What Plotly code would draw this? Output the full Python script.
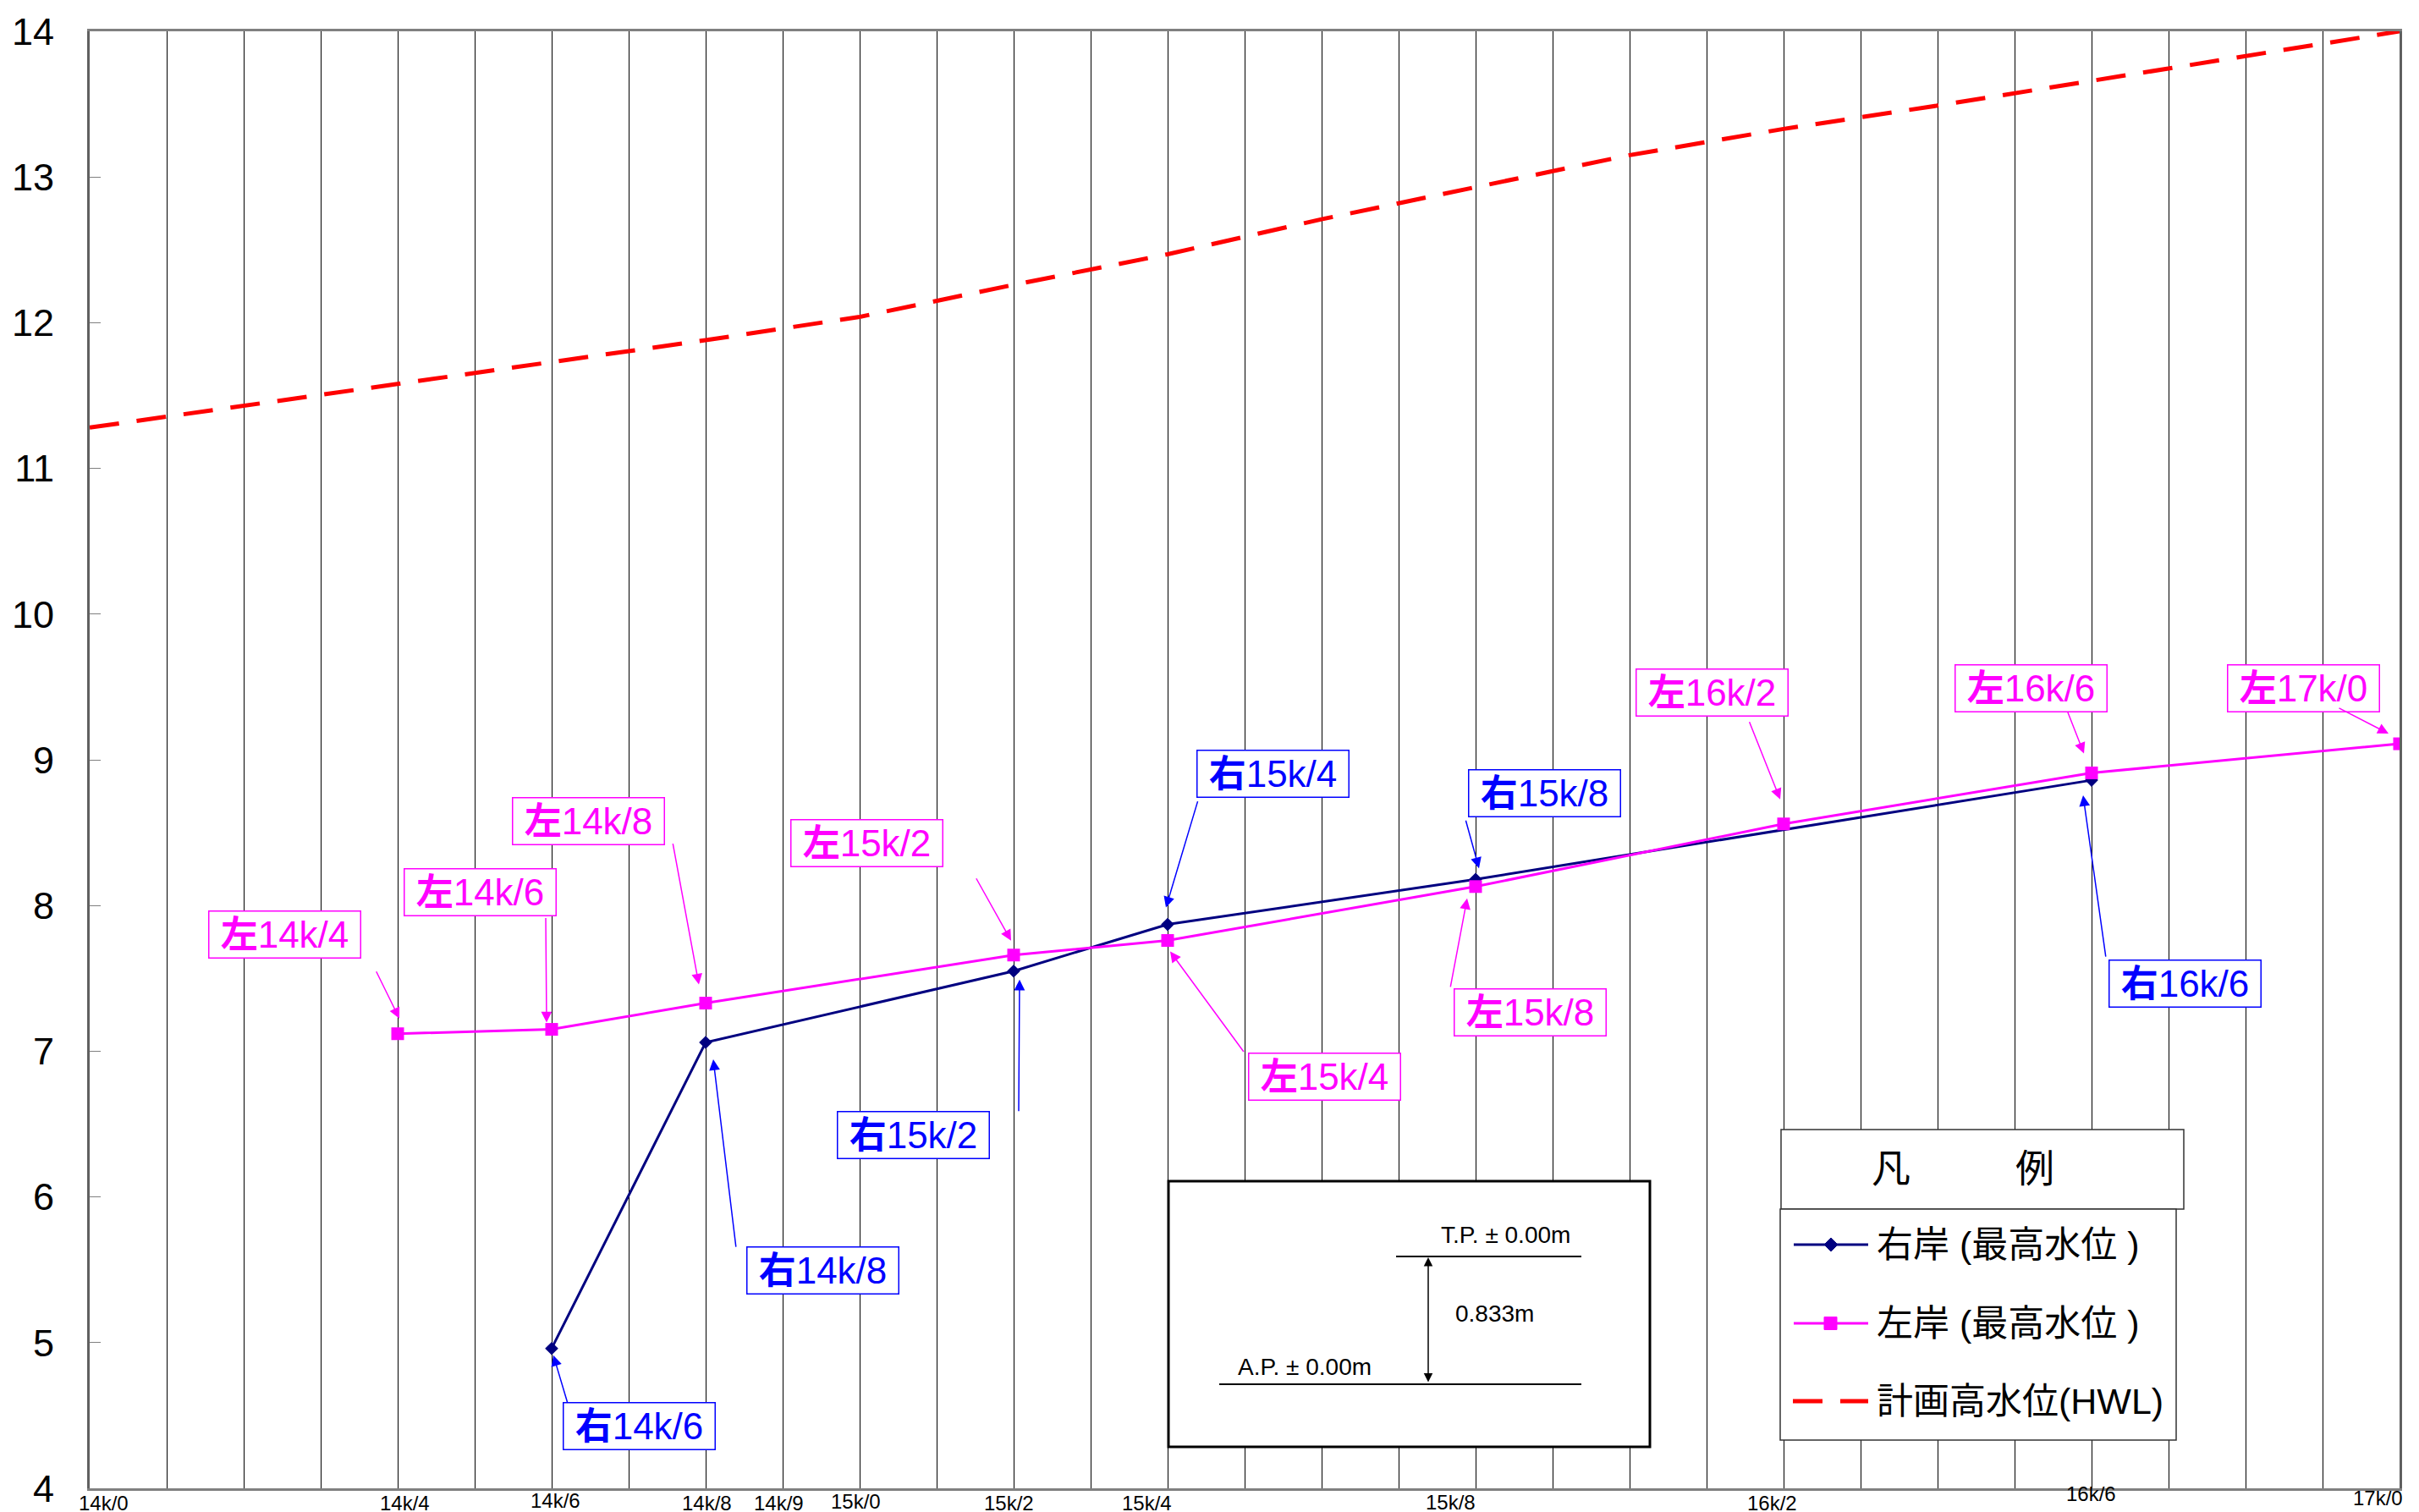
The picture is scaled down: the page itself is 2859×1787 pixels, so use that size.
import plotly.graph_objects as go

# ---------------- data ----------------
label_text = ["14k/0", "14k/4", "14k/6", "14k/8", "14k/9", "15k/0", "15k/2",
              "15k/4", "15k/8", "16k/2", "16k/6", "17k/0"]
label_km = [14.0, 14.4, 14.6, 14.8, 14.9, 15.0, 15.2, 15.4, 15.8, 16.2, 16.6, 17.0]

right_km = [14.6, 14.8, 15.2, 15.4, 15.8, 16.6]
right_wl = [4.96, 7.06, 7.55, 7.87, 8.18, 8.86]

left_km = [14.4, 14.6, 14.8, 15.2, 15.4, 15.8, 16.2, 16.6, 17.0]
left_wl = [7.12, 7.15, 7.33, 7.66, 7.76, 8.13, 8.56, 8.91, 9.11]

hwl_km = [14.0, 14.2, 14.4, 14.6, 14.8, 15.0, 15.2, 15.4, 15.6, 15.8, 16.0,
          16.2, 16.4, 16.6, 16.8, 17.0]
hwl_wl = [11.28, 11.43, 11.58, 11.73, 11.88, 12.04, 12.26, 12.47, 12.71, 12.93,
          13.15, 13.33, 13.49, 13.66, 13.83, 14.00]

name_right = "右岸 (最高水位 )"
name_left = "左岸 (最高水位 )"
name_hwl = "計画高水位(HWL)"

# ---------------- styling ----------------
W, H = 2859, 1787
ML, MR, MT, MB = 98, 31, 29, 36
PW, PH = W - ML - MR, H - MT - MB

def px(x):
    return (x - ML) / PW

def py(y):
    return (H - MB - y) / PH

LAT = "Liberation Sans, Arial, Noto Sans CJK JP"
NAVY = "#000080"
MAG = "#ff00ff"
BLUE = "#0000ff"
RED = "#ff0000"

# label offsets (pixels) for axis station labels
label_shift = {"14k/0": (16, -17), "14k/4": (8, -17), "14k/6": (4, -14),
               "14k/8": (1, -17), "14k/9": (-5, -17), "15k/0": (-5, -15),
               "15k/2": (-6, -17), "15k/4": (-25, -17), "15k/8": (-30, -16),
               "16k/2": (-14, -17), "16k/6": (-1, -6), "17k/0": (-26, -11)}

# callout geometry: box centre, arrow tail, arrow tip offsets (px, y down)
left_callouts = {
    14.4: ((-134, -117), (-26, -75), (2, -18)),
    14.6: ((-85, -162), (-7, -133), (-6, -8)),
    14.8: ((-139, -215), (-39, -190), (-8, -22)),
    15.2: ((-174, -132), (-45, -92), (-3, -17)),
    15.4: ((185, 161), (91, 133), (3, 13)),
    15.8: ((64, 149), (-30, 120), (-10, 14)),
    16.2: ((-85, -155), (-41, -122), (-4, -29)),
    16.6: ((-72, -100), (-29, -74), (-9, -23)),
    17.0: ((-114, -66), (-73, -43), (-13, -12)),
}
right_callouts = {
    14.6: ((103, 92), (19, 65), (2, 8)),
    14.8: ((138, 269), (36, 243), (9, 20)),
    15.2: ((-119, 194), (6, 167), (7, 10)),
    15.4: ((124, -178), (36, -147), (-2, -20)),
    15.8: ((81, -102), (-12, -71), (4, -13)),
    16.6: ((110, 240), (17, 210), (-10, 18)),
}

def station_label(km):
    k = int(round(km * 10))
    return f"{k // 10}k/{k % 10}"

fig = go.Figure()

fig.add_trace(go.Scatter(
    x=right_km, y=right_wl, mode="lines+markers", name=name_right,
    line=dict(color=NAVY, width=3),
    marker=dict(symbol="diamond", size=12, color=NAVY)))
fig.add_trace(go.Scatter(
    x=left_km, y=left_wl, mode="lines+markers", name=name_left,
    line=dict(color=MAG, width=3),
    marker=dict(symbol="square", size=15, color=MAG)))
fig.add_trace(go.Scatter(
    x=hwl_km, y=hwl_wl, mode="lines", name=name_hwl,
    line=dict(color=RED, width=5, dash="35px,21px")))

annotations = []
# axis station labels
for t, km in zip(label_text, label_km):
    dx, dy = label_shift[t]
    annotations.append(dict(
        x=km, xref="x", y=0, yref="paper", text=t, showarrow=False,
        xanchor="center", yanchor="middle", xshift=dx, yshift=dy,
        font=dict(family=LAT, size=24, color="black")))

def add_callouts(kms, wls, geo, bank, color):
    for km, wl in zip(kms, wls):
        if km not in geo:
            continue
        (bx, by), (tx, ty), (hx, hy) = geo[km]
        annotations.append(dict(
            x=km, y=wl, xref="x", yref="y",
            text=f"<b>{bank}</b>{station_label(km)}",
            showarrow=False, xanchor="center", yanchor="middle",
            xshift=bx, yshift=-by, width=170, height=46,
            bgcolor="white", bordercolor=color, borderwidth=1.5, borderpad=4,
            font=dict(family=LAT, size=44, color=color)))
        annotations.append(dict(
            x=km, y=wl, xref="x", yref="y", text="",
            showarrow=True, arrowhead=2, arrowsize=1.7, arrowwidth=1.5,
            arrowcolor=color, axref="pixel", ayref="pixel",
            ax=tx - hx, ay=ty - hy, xshift=hx, yshift=-hy))

add_callouts(left_km, left_wl, left_callouts, "左", MAG)
add_callouts(right_km, right_wl, right_callouts, "右", BLUE)

shapes = []
# inset box (T.P. / A.P.)
shapes.append(dict(type="rect", xref="paper", yref="paper",
                   x0=px(1373), x1=px(1942), y0=py(1702), y1=py(1388),
                   line=dict(color="black", width=3), fillcolor="white",
                   layer="above"))
shapes.append(dict(type="line", xref="paper", yref="paper",
                   x0=px(1642), x1=px(1861), y0=py(1477), y1=py(1477),
                   line=dict(color="black", width=2), layer="above"))
shapes.append(dict(type="line", xref="paper", yref="paper",
                   x0=px(1433), x1=px(1861), y0=py(1628), y1=py(1628),
                   line=dict(color="black", width=2), layer="above"))
annotations.append(dict(
    x=px(1680), y=py(1478), xref="paper", yref="paper", text="",
    showarrow=True, arrowside="end+start", arrowhead=2, startarrowhead=2,
    arrowsize=1.4, startarrowsize=1.4, arrowwidth=1.5, arrowcolor="black",
    axref="pixel", ayref="pixel", ax=0, ay=149))
for t, cx, cy in [("T.P. ± 0.00m", 1771, 1451), ("0.833m", 1759, 1544),
                  ("A.P. ± 0.00m", 1534, 1607)]:
    annotations.append(dict(x=px(cx), y=py(cy), xref="paper", yref="paper",
                            text=t, showarrow=False, xanchor="center",
                            yanchor="middle",
                            font=dict(family=LAT, size=28, color="black")))

# legend boxes
shapes.append(dict(type="rect", xref="paper", yref="paper",
                   x0=px(2097), x1=px(2573), y0=py(1421), y1=py(1327),
                   line=dict(color="#333333", width=1.5), fillcolor="white",
                   layer="above"))
shapes.append(dict(type="rect", xref="paper", yref="paper",
                   x0=px(2096), x1=px(2564), y0=py(1694), y1=py(1421),
                   line=dict(color="#333333", width=1.5), fillcolor="white",
                   layer="above"))
annotations.append(dict(x=px(2227), y=py(1373), xref="paper", yref="paper",
                        text="凡", showarrow=False, xanchor="center",
                        yanchor="middle",
                        font=dict(family=LAT, size=46, color="black")))
annotations.append(dict(x=px(2397), y=py(1373), xref="paper", yref="paper",
                        text="例", showarrow=False, xanchor="center",
                        yanchor="middle",
                        font=dict(family=LAT, size=46, color="black")))

rows = [(1463, name_right), (1556, name_left), (1648, name_hwl)]
# sample lines
shapes.append(dict(type="line", xref="paper", yref="paper",
                   x0=px(2112), x1=px(2200), y0=py(1463), y1=py(1463),
                   line=dict(color=NAVY, width=3), layer="above"))
shapes.append(dict(type="path", xref="paper", yref="paper",
                   path=(f"M {px(2148)},{py(1463)} L {px(2156)},{py(1455)} "
                         f"L {px(2164)},{py(1463)} L {px(2156)},{py(1471)} Z"),
                   line=dict(color=NAVY, width=1), fillcolor=NAVY, layer="above"))
shapes.append(dict(type="line", xref="paper", yref="paper",
                   x0=px(2112), x1=px(2200), y0=py(1556), y1=py(1556),
                   line=dict(color=MAG, width=3), layer="above"))
shapes.append(dict(type="rect", xref="paper", yref="paper",
                   x0=px(2148), x1=px(2163), y0=py(1563.5), y1=py(1548.5),
                   line=dict(color=MAG, width=1), fillcolor=MAG, layer="above"))
shapes.append(dict(type="line", xref="paper", yref="paper",
                   x0=px(2111), x1=px(2200), y0=py(1648), y1=py(1648),
                   line=dict(color=RED, width=5, dash="35px,21px"),
                   layer="above"))
for yy, t in rows:
    annotations.append(dict(x=px(2208), y=py(yy), xref="paper", yref="paper",
                            text=t, showarrow=False, xanchor="left",
                            yanchor="middle",
                            font=dict(family=LAT, size=43, color="black")))

fig.update_layout(
    width=W, height=H,
    margin=dict(l=ML, r=MR, t=MT, b=MB, pad=0, autoexpand=False),
    paper_bgcolor="white", plot_bgcolor="white",
    showlegend=False,
    annotations=annotations, shapes=shapes,
    xaxis=dict(range=[14.0, 17.0], tickmode="linear", tick0=14.0, dtick=0.1,
               showgrid=True, gridcolor="black", gridwidth=1,
               showticklabels=False, ticks="", zeroline=False, automargin=False,
               showline=True, linecolor="#808080", linewidth=3, mirror=True),
    yaxis=dict(range=[4, 14], tickmode="linear", tick0=4, dtick=1,
               showgrid=False, zeroline=False, ticks="inside", ticklen=13,
               tickcolor="#808080", tickwidth=1, ticklabelstandoff=30,
               automargin=False,
               tickfont=dict(family=LAT, size=45, color="black"),
               showline=True, linecolor="#606060", linewidth=3, mirror=True),
)

fig.write_html("out.html")
